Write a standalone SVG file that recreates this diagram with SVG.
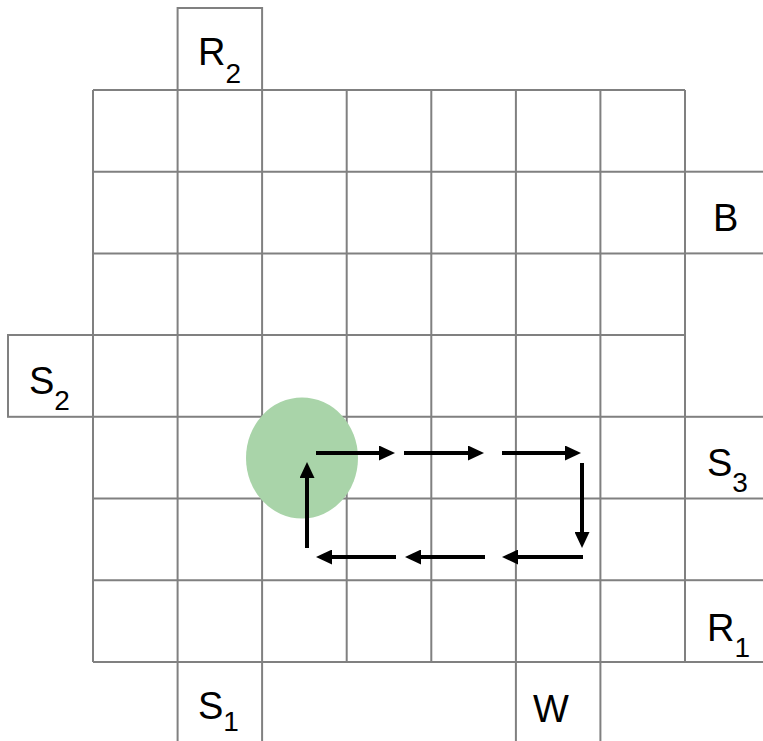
<svg xmlns="http://www.w3.org/2000/svg" width="763" height="741" viewBox="0 0 763 741">
<defs>
<style>
.g{stroke:#808080;stroke-width:2;fill:none}
.c{stroke:#808080;stroke-width:2;fill:#fff}
.t{font-family:"Liberation Sans",Arial,sans-serif;font-size:38px;fill:#000}
.s{font-size:28px}
.a{stroke:#000;stroke-width:4;fill:none;marker-end:url(#ah)}
</style>
<marker id="ah" viewBox="0 0 16 15" refX="0" refY="7.5" markerWidth="16" markerHeight="15" markerUnits="userSpaceOnUse" orient="auto">
<path d="M0,0 L16,7.5 L0,15 z" fill="#000"/>
</marker>
</defs>
<rect width="763" height="741" fill="#fff"/>
<g id="grid" class="g">
<path d="M93,90H685M93,171.7H685M93,253.4H685M93,335H685M93,416.8H685M93,498.5H685M93,580.2H685M93,662H685"/>
<path d="M93,90V662M177.6,90V662M262.1,90V662M346.7,90V662M431.3,90V662M515.9,90V662M600.4,90V662M685,90V662"/>
</g>
<g id="R2"><rect class="c" x="177.6" y="8" width="84.5" height="82"/><text class="t" x="198" y="65">R<tspan class="s" dy="18">2</tspan></text></g>
<g id="B"><rect class="c" x="685" y="171.7" width="90" height="81.7"/><text class="t" x="713" y="231">B</text></g>
<g id="S2"><rect class="c" x="8" y="335" width="85" height="81.8"/><text class="t" x="29" y="394">S<tspan class="s" dy="16">2</tspan></text></g>
<g id="S3"><rect class="c" x="685" y="416.8" width="90" height="81.7"/><text class="t" x="707" y="476">S<tspan class="s" dy="16">3</tspan></text></g>
<g id="R1"><rect class="c" x="685" y="580.2" width="90" height="81.8"/><text class="t" x="707" y="641">R<tspan class="s" dy="16">1</tspan></text></g>
<g id="S1"><rect class="c" x="177.6" y="662" width="84.5" height="90"/><text class="t" x="198" y="719">S<tspan class="s" dy="12">1</tspan></text></g>
<g id="W"><rect class="c" x="515.9" y="662" width="84.5" height="90"/><text class="t" x="533" y="722">W</text></g>
<g id="agent"><ellipse cx="302" cy="458" rx="56" ry="60.5" fill="#a9d4a9"/></g>
<g id="connectors">
<line class="a" x1="316" y1="453" x2="379" y2="453"/>
<line class="a" x1="404" y1="453" x2="468" y2="453"/>
<line class="a" x1="502" y1="453" x2="565" y2="453"/>
<line class="a" x1="582" y1="463" x2="582" y2="532"/>
<line class="a" x1="583" y1="557" x2="518" y2="557"/>
<line class="a" x1="485" y1="557" x2="421" y2="557"/>
<line class="a" x1="396" y1="557" x2="332" y2="557"/>
<line class="a" x1="307" y1="548" x2="307" y2="478"/>
</g>
</svg>
